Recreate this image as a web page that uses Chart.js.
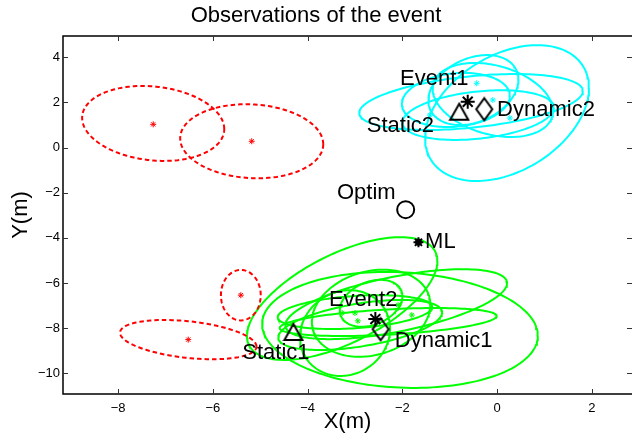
<!DOCTYPE html>
<html><head><meta charset="utf-8">
<script src="https://cdn.jsdelivr.net/npm/chart.js@4.4.1/dist/chart.umd.min.js"></script>
<style>html,body{margin:0;padding:0;background:#fff;overflow:hidden}#wrap{width:632px;height:433px}</style>
</head><body><div id="wrap"><canvas id="c" width="632" height="433"></canvas></div>
<script>
// ---- axes ----
const xTicks = [-8, -6, -4, -2, 0, 2];
const yTicks = [-10, -8, -6, -4, -2, 0, 2, 4];
const xRange = [-9.164, 2.848];
const yRange = [-10.92, 4.945];

// ---- error ellipses: centre, half-extent in x and y, correlation ----
const redCx  = [-7.26, -5.18, -5.41, -6.52];
const redCy  = [ 1.07,  0.28, -6.54, -8.51];
const redSx  = [ 1.50,  1.51,  0.42,  1.44];
const redSy  = [ 1.66,  1.64,  1.12,  0.87];
const redRho = [-0.15, -0.08,  0.00, -0.35];

const greenCx  = [-3.27, -2.05, -2.13, -2.30, -2.66, -2.66, -3.00, -2.89, -3.21];
const greenCy  = [-6.69, -8.08, -6.94, -7.73, -7.34, -6.90, -7.29, -7.86, -8.22];
const greenSx  = [ 2.01,  2.91,  2.34,  2.29,  1.25,  0.66,  1.63,  1.73,  0.95];
const greenSy  = [ 2.72,  2.57,  1.55,  0.62,  1.93,  1.04,  0.75,  1.11,  1.90];
const greenRho = [ 0.61, -0.10,  0.60,  0.43,  0.20,  0.30,  0.30,  0.50,  0.10];

const cyanCx  = [ 0.21, -0.55, -0.87, -0.09, -0.50, -0.40];
const cyanCy  = [ 1.53,  2.02,  2.11,  2.11,  2.55,  1.44];
const cyanSx  = [ 1.73,  2.36,  1.14,  1.27,  0.95,  1.60];
const cyanSy  = [ 3.01,  1.24,  1.20,  1.64,  1.55,  1.10];
const cyanRho = [ 0.37,  0.39,  0.15, -0.30,  0.30,  0.30];

// ---- small observation markers ----
const redStarX = [-7.26, -5.18, -5.41, -6.52];
const redStarY = [ 1.03,  0.28, -6.54, -8.51];
const greenStarX = [-3.27, -3.00, -2.94, -2.09, -1.80];
const greenStarY = [-7.33, -7.33, -7.68, -6.97, -7.42];
const cyanStarX = [-0.43, -0.09, -1.42, 0.27];
const cyanStarY = [ 2.85,  2.11,  1.44, 1.31];

// ---- named points ----
const eventX = [-0.62, -2.57];   const eventY = [2.03, -7.60];
const staticX = [-0.80, -4.30];  const staticY = [1.59, -8.17];
const dynamicX = [-0.27, -2.46]; const dynamicY = [1.70, -8.05];
const optimX = [-1.93]; const optimY = [-2.75];
const mlX = [-1.66];    const mlY = [-4.20];

// ---- text annotations (left edge, middle) ----
const labelText = ['Event1', 'Static2', 'Dynamic2', 'Optim', 'ML', 'Event2', 'Static1', 'Dynamic1'];
const labelX    = [-2.05, -2.75, 0.00, -3.38, -1.52, -3.55, -5.38, -2.16];
const labelY    = [ 3.06,  0.96, 1.69, -2.01, -4.20, -6.75, -9.10, -8.57];

const FONT = "'Liberation Sans', Arial, Helvetica, sans-serif";
Chart.defaults.font.family = FONT;
Chart.defaults.color = '#000';

function ellipsePts(cx, cy, sx, sy, rho) {
  const pts = [], n = 160, k = Math.sqrt(1 - rho * rho);
  for (let i = 0; i <= n; i++) {
    const t = 2 * Math.PI * i / n, c = Math.cos(t), s = Math.sin(t);
    pts.push({x: cx + sx * c, y: cy + sy * (rho * c + k * s)});
  }
  return pts;
}
const zip = (xs, ys) => xs.map((v, i) => ({x: v, y: ys[i]}));

function markerCanvas(kind, w, h, lw) {
  const c = document.createElement('canvas');
  c.width = Math.ceil(w + lw * 2); c.height = Math.ceil(h + lw * 2);
  const g = c.getContext('2d');
  const cx = c.width / 2, cy = c.height / 2;
  g.strokeStyle = '#000'; g.lineWidth = lw; g.lineJoin = 'miter';
  g.beginPath();
  if (kind === 'diamond') {
    g.moveTo(cx, cy - h / 2); g.lineTo(cx + w / 2, cy); g.lineTo(cx, cy + h / 2); g.lineTo(cx - w / 2, cy);
  } else {
    g.moveTo(cx, cy - h / 2); g.lineTo(cx + w / 2, cy + h / 2); g.lineTo(cx - w / 2, cy + h / 2);
  }
  g.closePath(); g.stroke();
  return c;
}
const diamondImg = markerCanvas('diamond', 16, 22, 2);
const triangleImg = markerCanvas('triangle', 18, 16, 2);

const datasets = [];
function addEllipses(cx, cy, sx, sy, rho, color, dash) {
  cx.forEach((_, i) => datasets.push({
    data: ellipsePts(cx[i], cy[i], sx[i], sy[i], rho[i]),
    showLine: true, borderColor: color, borderWidth: 2, borderDash: dash || [],
    pointRadius: 0, tension: 0, fill: false, order: 5
  }));
}
addEllipses(redCx, redCy, redSx, redSy, redRho, '#ff0000', [4.5, 3]);
addEllipses(cyanCx, cyanCy, cyanSx, cyanSy, cyanRho, '#00ffff');
addEllipses(greenCx, greenCy, greenSx, greenSy, greenRho, '#00ff00');

const star = (xs, ys, color, r, lw, order) => ({
  data: zip(xs, ys), showLine: false, pointStyle: 'star', pointRadius: r,
  borderColor: color, backgroundColor: color, pointBorderWidth: lw, order: order
});
datasets.push(star(redStarX, redStarY, '#ff0000', 3, 1, 3));
datasets.push(star(greenStarX, greenStarY, '#00ff00', 3, 1, 3));
datasets.push(star(cyanStarX, cyanStarY, '#00ffff', 3, 1, 3));
datasets.push(star(eventX, eventY, '#000', 7, 2, 1));
datasets.push({data: zip(staticX, staticY), showLine: false, pointStyle: triangleImg, order: 1});
datasets.push({data: zip(dynamicX, dynamicY), showLine: false, pointStyle: diamondImg, order: 1});
datasets.push({data: zip(optimX, optimY), showLine: false, pointStyle: 'circle', pointRadius: 8.5,
  borderColor: '#000', backgroundColor: 'rgba(0,0,0,0)', pointBorderWidth: 2, order: 1});
datasets.push({data: zip(mlX, mlY), showLine: false, pointStyle: 'circle', pointRadius: 3,
  borderColor: '#000', backgroundColor: '#000', pointBorderWidth: 1, order: 1});
datasets.push(star(mlX, mlY, '#000', 5, 2, 1));

const labelPlugin = {
  id: 'labels',
  afterDatasetsDraw(chart) {
    const {ctx, scales: {x, y}} = chart;
    ctx.save();
    ctx.font = '22px ' + FONT; ctx.fillStyle = '#000';
    ctx.textAlign = 'left'; ctx.textBaseline = 'middle';
    labelText.forEach((t, i) => ctx.fillText(t, x.getPixelForValue(labelX[i]), y.getPixelForValue(labelY[i])));
    ctx.restore();
  }
};
const framePlugin = {
  id: 'frame',
  afterDraw(chart) {
    const {ctx, chartArea: a, scales: {x, y}} = chart;
    ctx.save();
    ctx.strokeStyle = '#000'; ctx.lineWidth = 1.5;
    ctx.beginPath();
    ctx.moveTo(a.right, a.top); ctx.lineTo(a.left, a.top); ctx.lineTo(a.left, a.bottom); ctx.lineTo(a.right, a.bottom);
    ctx.stroke();
    ctx.lineWidth = 1; ctx.strokeStyle = '#333';
    ctx.beginPath();
    xTicks.forEach(v => { const p = Math.round(x.getPixelForValue(v)) + 0.5;
      ctx.moveTo(p, a.bottom); ctx.lineTo(p, a.bottom - 5); ctx.moveTo(p, a.top); ctx.lineTo(p, a.top + 5); });
    yTicks.forEach(v => { const p = Math.round(y.getPixelForValue(v)) + 0.5;
      ctx.moveTo(a.left, p); ctx.lineTo(a.left + 5, p); ctx.moveTo(a.right, p); ctx.lineTo(a.right - 5, p); });
    ctx.stroke();
    ctx.restore();
  }
};
const minus = v => String(v).replace('-', '\u2212');

new Chart(document.getElementById('c'), {
  type: 'scatter',
  data: {datasets},
  options: {
    responsive: false, animation: false, devicePixelRatio: 1,
    layout: {padding: 0, autoPadding: false},
    plugins: {
      legend: {display: false}, tooltip: {enabled: false},
      title: {display: true, text: 'Observations of the event', color: '#000',
        font: {size: 22, weight: 'normal', lineHeight: 1.2}, padding: {top: 2.5, bottom: 7.1}}
    },
    scales: {
      x: {
        type: 'linear', min: xRange[0], max: xRange[1],
        afterBuildTicks: s => { s.ticks = xTicks.map(v => ({value: v})); },
        afterFit: s => { s.height = 39; s.paddingLeft = 0; s.paddingRight = 0; },
        grid: {display: false, drawTicks: false}, border: {display: false},
        ticks: {font: {size: 13}, color: '#000', padding: 7, maxRotation: 0, callback: minus},
        title: {display: true, text: 'X(m)', color: '#000', font: {size: 22, lineHeight: 1}, padding: 0}
      },
      y: {
        type: 'linear', min: yRange[0], max: yRange[1],
        afterBuildTicks: s => { s.ticks = yTicks.map(v => ({value: v})); },
        afterFit: s => { s.width = 63; s.paddingTop = 0; s.paddingBottom = 0; },
        grid: {display: false, drawTicks: false}, border: {display: false},
        ticks: {font: {size: 13}, color: '#000', padding: 3, callback: minus},
        title: {display: true, text: 'Y(m)', color: '#000', font: {size: 22, lineHeight: 1}, padding: {top: 9.5, bottom: 0}}
      }
    }
  },
  plugins: [labelPlugin, framePlugin]
});
</script></body></html>
